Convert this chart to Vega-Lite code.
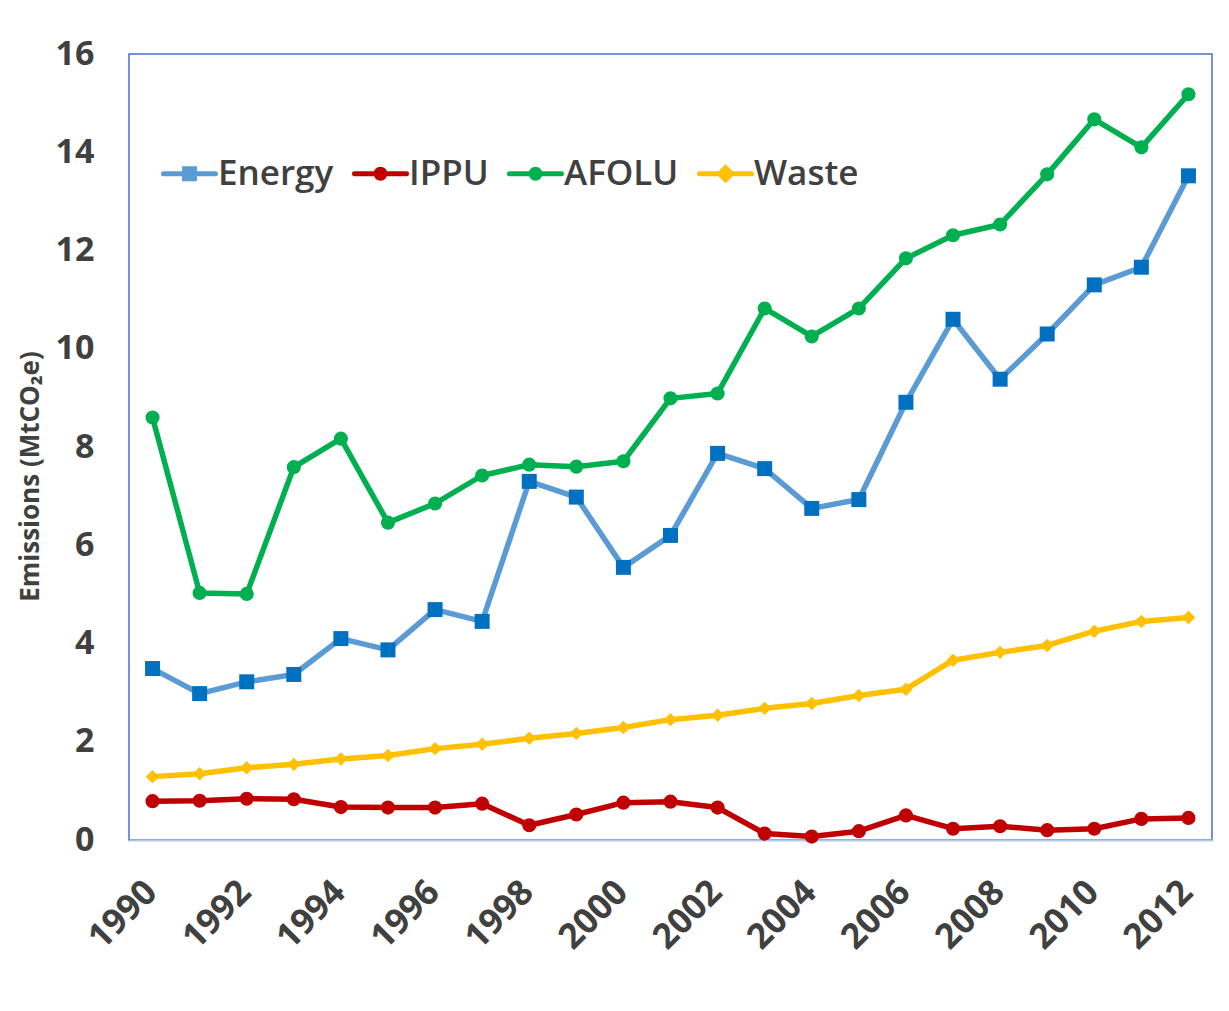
{
  "$schema": "https://vega.github.io/schema/vega-lite/v6.json",
  "width": 1083,
  "height": 786,
  "autosize": {"type": "none"},
  "padding": {"left": 129, "top": 54, "right": 17, "bottom": 171},
  "background": "white",
  "data": {"values": [
    {"year":1990,"series":"Energy","value":3.49},{"year":1991,"series":"Energy","value":2.98},{"year":1992,"series":"Energy","value":3.22},{"year":1993,"series":"Energy","value":3.37},{"year":1994,"series":"Energy","value":4.10},{"year":1995,"series":"Energy","value":3.87},{"year":1996,"series":"Energy","value":4.69},{"year":1997,"series":"Energy","value":4.45},{"year":1998,"series":"Energy","value":7.30},{"year":1999,"series":"Energy","value":6.98},{"year":2000,"series":"Energy","value":5.55},{"year":2001,"series":"Energy","value":6.20},{"year":2002,"series":"Energy","value":7.87},{"year":2003,"series":"Energy","value":7.56},{"year":2004,"series":"Energy","value":6.75},{"year":2005,"series":"Energy","value":6.93},{"year":2006,"series":"Energy","value":8.91},{"year":2007,"series":"Energy","value":10.60},{"year":2008,"series":"Energy","value":9.38},{"year":2009,"series":"Energy","value":10.30},{"year":2010,"series":"Energy","value":11.30},{"year":2011,"series":"Energy","value":11.66},{"year":2012,"series":"Energy","value":13.52},
    {"year":1990,"series":"IPPU","value":0.79},{"year":1991,"series":"IPPU","value":0.80},{"year":1992,"series":"IPPU","value":0.84},{"year":1993,"series":"IPPU","value":0.83},{"year":1994,"series":"IPPU","value":0.67},{"year":1995,"series":"IPPU","value":0.66},{"year":1996,"series":"IPPU","value":0.66},{"year":1997,"series":"IPPU","value":0.74},{"year":1998,"series":"IPPU","value":0.30},{"year":1999,"series":"IPPU","value":0.52},{"year":2000,"series":"IPPU","value":0.76},{"year":2001,"series":"IPPU","value":0.78},{"year":2002,"series":"IPPU","value":0.66},{"year":2003,"series":"IPPU","value":0.13},{"year":2004,"series":"IPPU","value":0.07},{"year":2005,"series":"IPPU","value":0.18},{"year":2006,"series":"IPPU","value":0.50},{"year":2007,"series":"IPPU","value":0.23},{"year":2008,"series":"IPPU","value":0.28},{"year":2009,"series":"IPPU","value":0.20},{"year":2010,"series":"IPPU","value":0.23},{"year":2011,"series":"IPPU","value":0.43},{"year":2012,"series":"IPPU","value":0.45},
    {"year":1990,"series":"AFOLU","value":8.60},{"year":1991,"series":"AFOLU","value":5.03},{"year":1992,"series":"AFOLU","value":5.01},{"year":1993,"series":"AFOLU","value":7.59},{"year":1994,"series":"AFOLU","value":8.17},{"year":1995,"series":"AFOLU","value":6.46},{"year":1996,"series":"AFOLU","value":6.85},{"year":1997,"series":"AFOLU","value":7.42},{"year":1998,"series":"AFOLU","value":7.64},{"year":1999,"series":"AFOLU","value":7.60},{"year":2000,"series":"AFOLU","value":7.71},{"year":2001,"series":"AFOLU","value":8.99},{"year":2002,"series":"AFOLU","value":9.09},{"year":2003,"series":"AFOLU","value":10.82},{"year":2004,"series":"AFOLU","value":10.25},{"year":2005,"series":"AFOLU","value":10.82},{"year":2006,"series":"AFOLU","value":11.84},{"year":2007,"series":"AFOLU","value":12.31},{"year":2008,"series":"AFOLU","value":12.53},{"year":2009,"series":"AFOLU","value":13.55},{"year":2010,"series":"AFOLU","value":14.67},{"year":2011,"series":"AFOLU","value":14.10},{"year":2012,"series":"AFOLU","value":15.18},
    {"year":1990,"series":"Waste","value":1.29},{"year":1991,"series":"Waste","value":1.35},{"year":1992,"series":"Waste","value":1.47},{"year":1993,"series":"Waste","value":1.54},{"year":1994,"series":"Waste","value":1.65},{"year":1995,"series":"Waste","value":1.72},{"year":1996,"series":"Waste","value":1.86},{"year":1997,"series":"Waste","value":1.95},{"year":1998,"series":"Waste","value":2.07},{"year":1999,"series":"Waste","value":2.17},{"year":2000,"series":"Waste","value":2.29},{"year":2001,"series":"Waste","value":2.45},{"year":2002,"series":"Waste","value":2.54},{"year":2003,"series":"Waste","value":2.68},{"year":2004,"series":"Waste","value":2.78},{"year":2005,"series":"Waste","value":2.94},{"year":2006,"series":"Waste","value":3.07},{"year":2007,"series":"Waste","value":3.66},{"year":2008,"series":"Waste","value":3.82},{"year":2009,"series":"Waste","value":3.96},{"year":2010,"series":"Waste","value":4.25},{"year":2011,"series":"Waste","value":4.45},{"year":2012,"series":"Waste","value":4.53}
  ]},
  "encoding": {
    "x": {
      "field": "year", "type": "ordinal",
      "scale": {"type": "point", "padding": 0.5},
      "axis": {
        "title": null,
        "values": [1990,1992,1994,1996,1998,2000,2002,2004,2006,2008,2010,2012],
        "labelAngle": -45, "labelAlign": "right", "labelBaseline": "middle",
        "labelPadding": 46, "labelOffset": -2,
        "labelFont": "Open Sans", "labelFontSize": 35, "labelFontWeight": "bold", "labelColor": "#404040",
        "ticks": false, "domain": true, "domainColor": "#B4C7E7", "domainWidth": 2, "grid": false
      }
    },
    "y": {
      "field": "value", "type": "quantitative",
      "scale": {"domain": [0, 16], "nice": false, "zero": true},
      "axis": {
        "title": "Emissions (MtCO₂e)",
        "titleFont": "Open Sans", "titleFontSize": 26, "titleFontWeight": "bold", "titleColor": "#404040",
        "titleX": -99, "titleY": 422, "titleAngle": -90, "titleAlign": "center", "titleBaseline": "middle",
        "values": [0,2,4,6,8,10,12,14,16],
        "labelPadding": 35,
        "labelFont": "Open Sans", "labelFontSize": 34, "labelFontWeight": "bold", "labelColor": "#404040",
        "ticks": false, "domain": false, "grid": false
      }
    }
  },
  "layer": [
    {
      "mark": {"type": "line", "strokeWidth": 5.5, "strokeJoin": "round", "strokeCap": "round"},
      "encoding": {
        "stroke": {
          "field": "series", "type": "nominal",
          "scale": {"domain": ["Energy","IPPU","AFOLU","Waste"], "range": ["#5B9BD5","#C00000","#00B050","#FFC000"]},
          "legend": {
            "title": null, "orient": "none", "direction": "horizontal",
            "legendX": 32, "legendY": 91,
            "symbolType": "M-1,0H1",
            "symbolSize": 2704, "symbolStrokeWidth": 5,
            "labelFont": "Open Sans", "labelFontSize": 35, "labelFontWeight": 600, "labelColor": "#404040",
            "labelOffset": 0, "columnPadding": 10, "labelLimit": 300,
            "encode": {
              "symbols": {
                "update": {
                  "shape": {"signal": "datum.value === 'Energy' ? 'M-1,0H1M-0.19,-0.19H0.19V0.19H-0.19Z' : datum.value === 'Waste' ? 'M-1,0H1M0,-0.23L0.23,0L0,0.23L-0.23,0Z' : 'M-1,0H1M-0.17,0A0.17,0.17,0,1,1,0.17,0A0.17,0.17,0,1,1,-0.17,0Z'"},
                  "fill": {"signal": "datum.value === 'Energy' ? '#0070C0' : datum.value === 'IPPU' ? '#C00000' : datum.value === 'AFOLU' ? '#00B050' : '#FFC000'"},
                  "strokeCap": {"value": "round"}
                }
              }
            }
          }
        }
      }
    },
    {
      "transform": [{"filter": "datum.series === 'Energy'"}],
      "mark": {"type": "point", "shape": "square", "filled": true, "opacity": 1, "strokeWidth": 0, "size": 225, "fill": "#0070C0"}
    },
    {
      "transform": [{"filter": "datum.series === 'IPPU'"}],
      "mark": {"type": "point", "shape": "circle", "filled": true, "opacity": 1, "strokeWidth": 0, "size": 200, "fill": "#C00000"}
    },
    {
      "transform": [{"filter": "datum.series === 'AFOLU'"}],
      "mark": {"type": "point", "shape": "circle", "filled": true, "opacity": 1, "strokeWidth": 0, "size": 200, "fill": "#00B050"}
    },
    {
      "transform": [{"filter": "datum.series === 'Waste'"}],
      "mark": {"type": "point", "shape": "diamond", "filled": true, "opacity": 1, "strokeWidth": 0, "size": 180, "fill": "#FFC000"}
    }
  ],
  "config": {
    "view": {"stroke": "#4472C4", "strokeWidth": 1.5}
  }
}
